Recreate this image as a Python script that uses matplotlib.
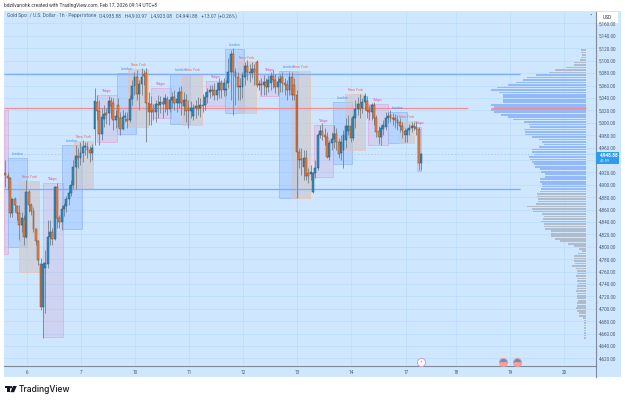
import matplotlib
matplotlib.use('Agg')
import matplotlib.pyplot as plt
from matplotlib.patches import Rectangle, Polygon, Circle
from matplotlib.transforms import blended_transform_factory
import numpy as np

# hourly XAUUSD candles
opens = [4919, 4914, 4911, 4854, 4877, 4866, 4854, 4835, 4845, 4816,
         4888, 4867, 4858, 4829, 4809, 4772, 4703, 4766, 4772, 4816,
         4824, 4813, 4896, 4846, 4840, 4861, 4866, 4877, 4887, 4900,
         4929, 4946, 4943, 4951, 4961, 4961, 4956, 4951, 4990, 5033,
         5019, 4982, 5006, 5016, 5016, 5035, 5032, 5004, 5028, 5008,
         4990, 5009, 5006, 5004, 5038, 5059, 5074, 5046, 5062, 5078,
         5080, 5032, 5030, 5020, 5017, 5030, 5029, 5033, 5030, 5038,
         5022, 5037, 5041, 5032, 5032, 5049, 5027, 5037, 5024, 5019,
         5011, 5024, 5027, 5024, 5029, 5029, 5041, 5049, 5053, 5053,
         5045, 5053, 5064, 5053, 5053, 5064, 5082, 5111, 5082, 5074,
         5058, 5058, 5074, 5091, 5082, 5080, 5087, 5098, 5061, 5062,
         5061, 5066, 5058, 5064, 5075, 5069, 5058, 5066, 5074, 5064,
         5061, 5053, 5074, 5061, 5045, 4953, 4941, 4929, 4943, 4919,
         4917, 4888, 4919, 4927, 4980, 4987, 4980, 4977, 4945, 4967,
         4974, 4982, 4969, 4951, 4956, 4972, 4987, 4995, 4975, 5008,
         5022, 5030, 5024, 5033, 5035, 5020, 5017, 5029, 5008, 4987,
         4977, 4990, 4993, 5008, 5012, 5008, 5008, 5004, 5001, 4995,
         4987, 4980, 4988, 4991, 4995, 4993, 4990, 4935.88]
highs = [4940, 4921, 4912, 4879, 4880, 4867, 4867, 4856, 4851, 4908,
         4892, 4871, 4864, 4830, 4811, 4782, 4775, 4795, 4843, 4843,
         4830, 4898, 4903, 4851, 4867, 4871, 4882, 4900, 4908, 4940,
         4964, 4959, 4969, 4972, 4969, 4969, 4962, 4966, 5056, 5045,
         5037, 5024, 5029, 5024, 5043, 5041, 5040, 5020, 5040, 5017,
         5020, 5017, 5017, 5045, 5069, 5082, 5085, 5069, 5088, 5085,
         5088, 5049, 5043, 5030, 5037, 5045, 5043, 5041, 5046, 5043,
         5041, 5049, 5053, 5049, 5058, 5059, 5049, 5046, 5037, 5035,
         5030, 5037, 5041, 5040, 5046, 5049, 5056, 5061, 5061, 5064,
         5066, 5072, 5069, 5072, 5069, 5104, 5117, 5120, 5088, 5082,
         5072, 5082, 5098, 5101, 5095, 5098, 5095, 5101, 5069, 5072,
         5077, 5072, 5077, 5082, 5085, 5078, 5075, 5078, 5082, 5072,
         5069, 5082, 5082, 5072, 5053, 4959, 4959, 4956, 4956, 4927,
         4932, 4921, 4940, 4983, 4996, 4999, 4991, 4985, 4972, 4985,
         4996, 4991, 4975, 4980, 4988, 5008, 5012, 5008, 5012, 5037,
         5041, 5046, 5040, 5048, 5043, 5029, 5032, 5033, 5012, 4995,
         4996, 5004, 5017, 5017, 5020, 5016, 5014, 5012, 5008, 5001,
         4991, 4991, 4998, 5001, 5001, 5001, 4993, 4950.97]
lows = [4896, 4892, 4848, 4848, 4856, 4843, 4811, 4824, 4803, 4814,
        4856, 4851, 4824, 4803, 4771, 4698, 4653, 4693, 4766, 4803,
        4803, 4811, 4830, 4830, 4827, 4850, 4856, 4867, 4882, 4895,
        4893, 4927, 4932, 4937, 4948, 4943, 4937, 4940, 4964, 5004,
        4964, 4972, 4993, 4998, 4996, 5008, 4988, 4991, 4993, 4980,
        4988, 5001, 4991, 5001, 5028, 5045, 5037, 5020, 5045, 5061,
        4969, 4996, 4996, 5004, 5001, 5008, 5016, 5008, 5017, 5012,
        5017, 5024, 5020, 5017, 5024, 5012, 5012, 5001, 4991, 5008,
        5004, 5008, 5012, 5009, 5017, 5020, 5032, 5040, 5043, 5037,
        5037, 5040, 5040, 5043, 5043, 5056, 5037, 5012, 5028, 5037,
        5037, 5040, 5061, 5069, 5066, 5072, 5061, 5058, 5053, 5045,
        5045, 5045, 5049, 5053, 5056, 5048, 5045, 5049, 5049, 5045,
        5037, 5045, 5037, 5037, 4879, 4927, 4916, 4908, 4908, 4903,
        4908, 4887, 4911, 4924, 4975, 4972, 4964, 4943, 4940, 4956,
        4959, 4956, 4943, 4940, 4927, 4959, 4980, 4969, 4972, 4991,
        5012, 5008, 5016, 5020, 5008, 5004, 5004, 4996, 4977, 4966,
        4964, 4980, 4988, 5000, 5001, 4996, 4991, 4988, 4985, 4975,
        4969, 4969, 4980, 4985, 4988, 4980, 4924, 4923.08]
closes = [4916, 4911, 4854, 4877, 4867, 4854, 4835, 4846, 4816, 4888,
          4867, 4858, 4829, 4809, 4779, 4703, 4772, 4774, 4816, 4824,
          4813, 4896, 4846, 4840, 4861, 4866, 4877, 4887, 4900, 4929,
          4946, 4943, 4951, 4961, 4962, 4956, 4951, 4959, 5035, 5019,
          4982, 5009, 5014, 5012, 5035, 5027, 5004, 5011, 5009, 4990,
          5009, 5011, 5003, 5038, 5059, 5074, 5046, 5062, 5074, 5075,
          5032, 5017, 5017, 5017, 5030, 5029, 5033, 5030, 5040, 5022,
          5037, 5041, 5032, 5038, 5049, 5032, 5037, 5019, 5019, 5024,
          5024, 5027, 5022, 5029, 5027, 5041, 5049, 5053, 5051, 5045,
          5053, 5064, 5053, 5064, 5054, 5082, 5111, 5082, 5074, 5058,
          5059, 5077, 5091, 5082, 5080, 5087, 5082, 5061, 5062, 5061,
          5066, 5058, 5069, 5075, 5069, 5058, 5066, 5070, 5064, 5061,
          5053, 5074, 5045, 5045, 4953, 4940, 4940, 4943, 4914, 4914,
          4921, 4919, 4927, 4980, 4987, 4980, 4977, 4945, 4967, 4974,
          4982, 4969, 4949, 4969, 4980, 4995, 4995, 4975, 5009, 5022,
          5030, 5022, 5033, 5043, 5019, 5017, 5029, 5008, 4985, 4977,
          4991, 4996, 5008, 5011, 5008, 5006, 5004, 4999, 4995, 4988,
          4980, 4988, 4991, 4995, 4993, 4990, 4935.88, 4948.88]

# session boxes, in bar numbers and prices
session_names = ['Tokyo', 'London', 'New York', 'Tokyo', 'London', 'New York', 'Tokyo', 'London', 'New York',
                 'Tokyo', 'London', 'New York', 'Tokyo', 'London', 'New York', 'Tokyo', 'London', 'New York',
                 'Tokyo', 'London', 'New York', 'Tokyo', 'London', 'New York', 'Tokyo']
session_start = [-0.5, 1.3, 6, 16.2, 24.3, 29.3, 39.2, 47.4, 52.4, 62, 70.3, 75.4, 85.5, 93.6, 98.5,
                 108.5, 116.7, 121.7, 131.6, 139.7, 144.7, 154.6, 162.8, 167.8, 175.5]
session_end = [1.3, 9.1, 14.2, 24.4, 32.5, 37.4, 47.4, 55.5, 60.6, 70.4, 78.7, 83.6, 93.6, 101.7, 106.8,
               116.7, 124.8, 129.8, 139.7, 147.8, 153.2, 162.8, 171, 174.1, 177]
session_high = [5020, 4943, 4906, 4903, 4964, 4971, 5045, 5080, 5087, 5056, 5078, 5078, 5067, 5119, 5098,
                5078, 5083, 5083, 4996, 5033, 5046, 5030, 5017, 5003, 4993]
session_low = [4788, 4800, 4759, 4655, 4829, 4893, 4969, 4982, 4993, 5008, 4998, 4996, 5027, 5016, 5016,
               5043, 4879, 4879, 4912, 4933, 4956, 4964, 4967, 4967, 4922]

# fixed range volume profile
profile_top = 5117
profile_step = 4
profile_volume = [5, 5, 4, 5, 6, 12, 12, 20, 31, 37, 50, 59, 63, 70, 78, 89, 95, 87, 83, 83, 83, 83, 95, 92, 95,
                  92, 85, 78, 73, 62, 57, 56, 62, 61, 61, 54, 47, 44, 42, 47, 54, 54, 52, 57, 56, 54, 52, 51,
                  46, 45, 41, 41, 46, 46, 44, 44, 45, 46, 49, 49, 48, 48, 50, 59, 54, 53, 44, 42, 43, 45, 42,
                  42, 41, 35, 35, 35, 31, 26, 18, 12, 7, 4, 8, 12, 12, 12, 11, 14, 10, 9, 9, 10, 9, 9, 8, 9,
                  9, 10, 9, 9, 9, 8, 9, 9, 10, 9, 7, 7, 3, 2, 2, 2, 2, 2, 2, 2, 2]
value_area_high = 5078
value_area_low = 4893
poc_price = 5023

price_ticks = [4620, 4640, 4660, 4680, 4700, 4720, 4740, 4760, 4780, 4800, 4820, 4840, 4860, 4880, 4900,
               4920, 4940, 4960, 4980, 5000, 5020, 5040, 5060, 5080, 5100, 5120, 5140, 5160]
day_bars = [9.24, 32.24, 55.2, 78.2, 101.2, 124.2, 147.2, 170.7, 191.9, 214.9, 237.9]
day_labels = ['6', '7', '10', '11', '12', '13', '14', '17', '18', '19', '20']
event_bars = [176.9, 212, 218]

BG = '#cfe6ff'
GRID = '#c0defd'
TXT = '#4c5a68'
font = 'Roboto'
plt.rcParams['font.family'] = font

fig = plt.figure(figsize=(6.25, 4.01), dpi=100, facecolor='white')

# page layer in pixels: pane, header, footer
page = fig.add_axes([0, 0, 1, 1], zorder=0)
page.set_xlim(0, 625)
page.set_ylim(401, 0)
page.axis('off')
page.add_patch(Rectangle((4, 11), 617, 366, fc=BG, ec='none'))
page.text(4, 5.5, 'bdzilvanohk created with TradingView.com, Feb 17, 2026 09:14 UTC+8', fontsize=3.55,
          color='#333333', va='center')
page.text(7, 16, 'Gold Spot / U.S. Dollar · 1h · Pepperstone', fontsize=3.5, color=TXT, va='center')
page.text(99, 16, 'O4,935.88   H4,950.97   L4,923.08   C4,948.88   +13.07 (+0.26%)', fontsize=3.5, color=TXT, va='center')
page.plot([595.7, 595.7], [366, 377], color='#7f8a96', lw=0.8)
page.add_patch(Rectangle((597, 12), 21, 10.5, fc='white', ec='none', zorder=5))
page.text(607.5, 17.3, 'USD', fontsize=3.5, color='#333333', ha='center', va='center', zorder=6)
page.add_patch(Circle((591.2, 14.6), 0.6, fc='#55606c', ec='none'))

# logo
page.add_patch(Polygon([(4.7, 386), (9.6, 386), (9.6, 392.2), (7, 392.2), (7, 388.4), (4.7, 388.4)], fc='#131722', ec='none'))
page.add_patch(Circle((11, 387.2), 1.2, fc='#131722', ec='none'))
page.add_patch(Polygon([(13, 386), (16.8, 386), (14.1, 392.2), (10.4, 392.2)], fc='#131722', ec='none'))
page.text(19, 389, 'TradingView', fontsize=6.1, fontweight='medium', color='#131722', va='center', family='Inter')

ax = fig.add_axes([4 / 625, 35 / 401, 591.7 / 625, 354.5 / 401], zorder=1, facecolor='none')
ax.set_xlim(-0.55, 251.4)
ax.set_ylim(4607.9, 5179.3)

# day and price grid; the 4,940 label sits behind the last price tag
ax.set_axisbelow(True)
ax.grid(True, color=GRID, lw=0.7)
ax.yaxis.tick_right()
ax.set_yticks(price_ticks)
ax.set_yticklabels(['' if p == 4940 else '{:,.2f}'.format(p) for p in price_ticks], fontsize=3.3, color=TXT)
ax.set_xticks(day_bars)
ax.set_xticklabels(day_labels, fontsize=3.3, color=TXT)
ax.tick_params(axis='both', length=0)
ax.tick_params(axis='y', pad=2.4)
ax.tick_params(axis='x', pad=2.8)
for s in ['top', 'left']:
    ax.spines[s].set_visible(False)
for s in ['right', 'bottom']:
    ax.spines[s].set_color('#7f8a96')
    ax.spines[s].set_linewidth(0.8)

# session boxes
session_fill = {'Tokyo': (0.80, 0.60, 0.78, 0.24), 'London': (0.42, 0.63, 1.0, 0.26), 'New York': (0.80, 0.78, 0.78, 0.62)}
session_edge = {'Tokyo': '#e6a6d6', 'London': '#93baf5', 'New York': '#e8c4b4'}
session_text = {'Tokyo': '#d9489f', 'London': '#4d8df0', 'New York': '#ef6a5c'}
for name, x0, x1, top, bot in zip(session_names, session_start, session_end, session_high, session_low):
    ax.add_patch(Rectangle((x0, bot), x1 - x0, top - bot, fc=session_fill[name], ec=session_edge[name], lw=0.5, zorder=2))
    if x1 - x0 > 2 or top < 5000:
        ax.text((x0 + x1) / 2, top + 3, name, fontsize=2.5, color=session_text[name], ha='center', va='bottom', zorder=4)

# value area and poc lines
ax.hlines([value_area_high, value_area_low], -0.55, 219.2, color='#82aef7', lw=1.0, zorder=3)
ax.hlines(poc_price, -0.55, 197, color='#f28b93', lw=0.9, zorder=3)
ax.axhline(closes[-1], color='#a9cdf5', lw=0.6, ls=(0, (2, 2)), zorder=3)

# candles
bars = np.arange(len(closes))
up = np.array(closes) >= np.array(opens)
ax.vlines(bars, lows, highs, color='#7b8794', lw=0.65, zorder=5)
ax.bar(bars[up], np.array(closes)[up] - np.array(opens)[up], bottom=np.array(opens)[up], width=0.8,
       fc='#2f8fc6', ec='#25587a', lw=0.35, zorder=6)
ax.bar(bars[~up], np.array(opens)[~up] - np.array(closes)[~up], bottom=np.array(closes)[~up], width=0.8,
       fc='#ea8444', ec='#85482a', lw=0.35, zorder=6)

# volume profile
anchor = 247.2
px = 1 / 2.348
row_price = profile_top - profile_step * np.arange(len(profile_volume))
vol = np.array(profile_volume) * px
inside = (row_price <= value_area_high) & (row_price >= value_area_low)
ax.barh(row_price[inside], vol[inside], left=anchor - vol[inside], height=2.7, color='#93b9f8', zorder=3)
ax.barh(row_price[~inside], vol[~inside], left=anchor - vol[~inside], height=2.7, color='#aebccc', zorder=3)
ax.hlines(poc_price, anchor - max(profile_volume) * px, anchor, color='#f28b93', lw=0.9, zorder=4)

# last price tag on the scale
edge = blended_transform_factory(ax.transAxes, ax.transData)
ax.add_patch(Rectangle((1.0, closes[-1] - 14.6), 0.0395, 18.5, transform=edge, fc='#2f9bef', ec='none', clip_on=False, zorder=10))
ax.text(1.0065, closes[-1] + 0.2, '{:,.2f}'.format(closes[-1]), transform=edge, fontsize=3.3, color='white',
        fontweight='bold', va='center', clip_on=False, zorder=11)
ax.text(1.0065, closes[-1] - 10.2, '45:59', transform=edge, fontsize=2.9, color='#d8ecff', va='center', clip_on=False, zorder=11)

# calendar events above the time scale
event_price = 4615
ax.plot(event_bars[0], event_price, 'o', ms=5.8, mfc='white', mec='#d89ad0', mew=0.7, clip_on=False, zorder=7)
ax.text(event_bars[0], event_price, '\u26a1', fontsize=3.0, color='#c86ab8', ha='center', va='center', family='DejaVu Sans', zorder=8)
ax.plot(event_bars[1:], [event_price] * 2, 'o', ms=5.8, fillstyle='top', mfc='#5c8fe8', mfcalt='#f4a3a3', mec='#ee9a90', mew=0.7, ls='none', clip_on=False, zorder=7)

fig.savefig('out.png', dpi=100)
